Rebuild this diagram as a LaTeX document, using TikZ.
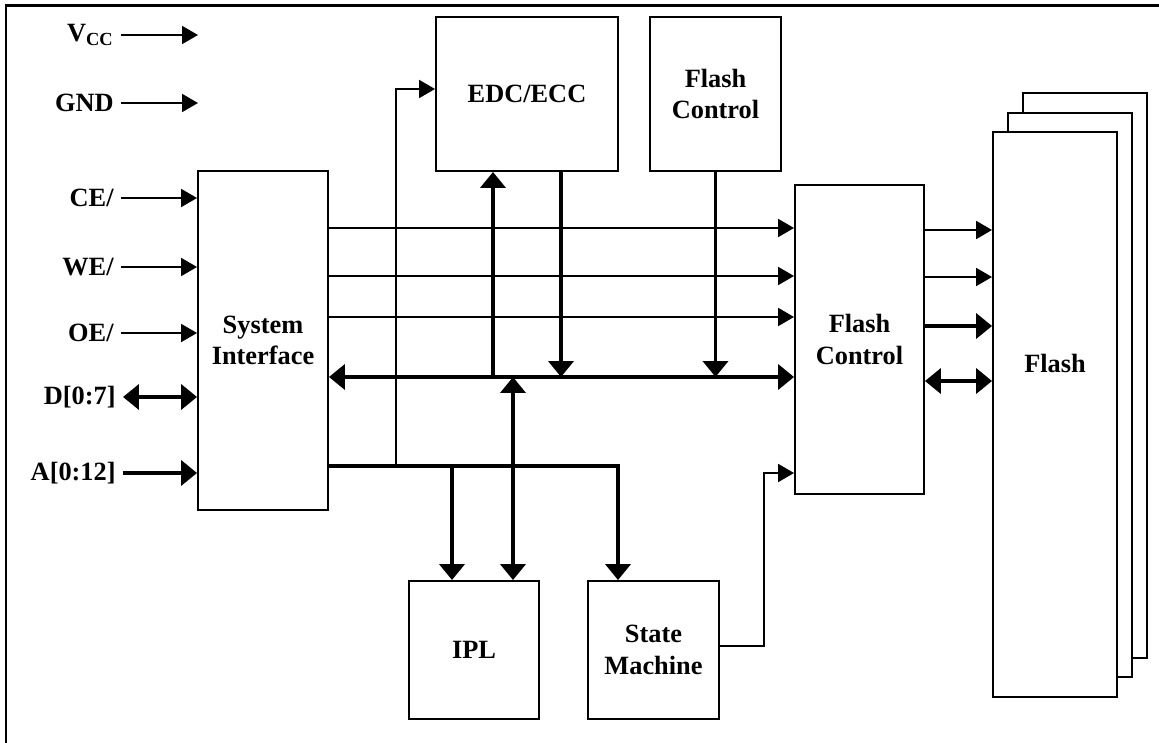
\documentclass[tikz,border=0pt]{standalone}
\usepackage{fontspec}
\setmainfont{Liberation Serif}
\usetikzlibrary{arrows.meta}
\tikzset{
  blk/.style={draw,line width=1.1pt,fill=white,align=center,inner sep=0pt,
    font=\fontsize{15}{18}\selectfont\bfseries},
  lbl/.style={anchor=east,inner sep=4pt,font=\fontsize{15}{18}\selectfont\bfseries},
  wire/.style={line width=1.1pt},
  sig/.style={line width=1.1pt,-{Triangle[length=0.32cm,width=0.36cm]}},
  bus/.style={line width=2.2pt,-{Triangle[length=0.32cm,width=0.5cm]}},
  dbus/.style={line width=2.2pt,{Triangle[length=0.32cm,width=0.5cm]}-{Triangle[length=0.32cm,width=0.5cm]}}
}

\begin{document}
\begin{tikzpicture}[x=0.02cm,y=-0.02cm]
\useasboundingbox (0,0) rectangle (1159,743);
\draw[line width=1.4pt] (6,743) -- (6,5.5) -- (1159,5.5);

% blocks
\node[blk,minimum width=2.6cm,minimum height=6.78cm] (sysif) at (263,340.5) {System\\Interface};
\node[blk,minimum width=3.64cm,minimum height=3.08cm] (edc) at (527,94) {EDC/ECC};
\node[blk,minimum width=2.62cm,minimum height=3.08cm] (fctop) at (715.5,94) {Flash\\Control};
\node[blk,minimum width=2.58cm,minimum height=6.18cm] (fcmid) at (859.5,339.5) {Flash\\Control};
\node[blk,minimum width=2.6cm,minimum height=2.76cm] (ipl) at (474,650) {IPL};
\node[blk,minimum width=2.62cm,minimum height=2.76cm] (sm) at (653.5,650) {State\\Machine};

% flash stack
\foreach \i in {2,1}
  \node[blk,minimum width=2.48cm,minimum height=11.3cm] (flash\i) at ({1055+15*\i},{414.5-19.5*\i}) {};
\node[blk,minimum width=2.48cm,minimum height=11.3cm] (flash) at (1055,414.5) {};
\node[blk,draw=none,fill=none] (flashtxt) at (1055,363) {Flash};

% pins
\node[lbl] (vcc) at (121,35) {V\textsubscript{CC}};
\node[lbl] (gnd) at (121,103) {GND};
\coordinate (vccend) at (198,35);
\coordinate (gndend) at (198,103);
\draw[sig] (vcc.east) -- (vccend);
\draw[sig] (gnd.east) -- (gndend);

\node[lbl] (ce) at (121,198) {CE/};
\node[lbl] (we) at (121,267) {WE/};
\node[lbl] (oe) at (121,333) {OE/};
\node[lbl] (d) at (123,397) {D[0:7]};
\node[lbl] (a) at (123,473) {A[0:12]};
\draw[sig] (ce.east) -- (sysif.west |- ce.east);
\draw[sig] (we.east) -- (sysif.west |- we.east);
\draw[sig] (oe.east) -- (sysif.west |- oe.east);
\draw[dbus] (d.east) -- (sysif.west |- d.east);
\draw[bus] (a.east) -- (sysif.west |- a.east);

% control lines and data bus
\foreach \y in {228,276,317}
  \draw[sig] (sysif.east |- 0,\y) -- (fcmid.west |- 0,\y);
\draw[dbus] (sysif.east |- 0,377) -- (fcmid.west |- 0,377);
\draw[bus] (493,377) -- (edc.south -| 493,0);
\draw[bus] (edc.south -| 561,0) -- (561,377);
\draw[bus] (fctop.south) -- (fctop.south |- 0,377);
\draw[dbus] (ipl.north -| 513,0) -- (513,377);

% address bus
\draw[sig] (396,466) |- (edc.west |- 0,89);
\draw[bus] (sysif.east |- 0,466) -| (sm.north -| 618,0);
\draw[bus] (452,466) -- (ipl.north -| 452,0);

% state machine to flash control
\draw[sig] (sm.east |- 0,646) -- (764,646) |- (fcmid.west |- 0,473);

% flash control to flash
\draw[sig] (fcmid.east |- 0,230) -- (flash.west |- 0,230);
\draw[sig] (fcmid.east |- 0,277) -- (flash.west |- 0,277);
\draw[bus] (fcmid.east |- 0,326) -- (flash.west |- 0,326);
\draw[dbus] (fcmid.east |- 0,381) -- (flash.west |- 0,381);
\end{tikzpicture}
\end{document}
